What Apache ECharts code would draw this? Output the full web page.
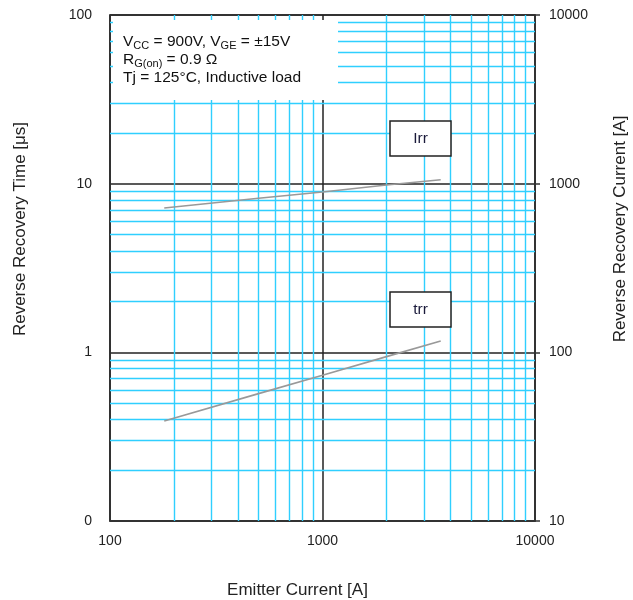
<!DOCTYPE html>
<html>
<head>
<meta charset="utf-8">
<script src="https://cdn.jsdelivr.net/npm/echarts@6/dist/echarts.min.js"></script>
<style>html,body{margin:0;padding:0;background:#fff}#c{width:633px;height:600px}</style>
</head>
<body>
<div id="c"></div>
<script>
// Data
const emitterCurrent = [180, 500, 1000, 2000, 3600];          // A
const trrValues      = [0.392, 0.569, 0.731, 0.943, 1.166];    // µs
const irrValues      = [718, 820, 893, 982, 1055];             // A

// Tick values
const xMinorTicks = [200,300,400,500,600,700,800,900,2000,3000,4000,5000,6000,7000,8000,9000];
const yMinorTicks = [0.2,0.3,0.4,0.5,0.6,0.7,0.8,0.9,2,3,4,5,6,7,8,9,20,30,40,50,60,70,80,90];
const leftTickLabels = {'-1':'0','0':'1','1':'10','2':'100'};

const chart = echarts.init(document.getElementById('c'), null, {renderer:'canvas'});
const FONT = 'Liberation Sans, Arial, sans-serif';
const CYAN = '#2fcfff';
const DARK = '#333';
const TXT = 15.5;

const option = {
  animation: false,
  backgroundColor: '#fff',
  grid: {left:110, right:98, top:15, bottom:79, containLabel:false, outerBoundsMode:'none',
         show:true, borderColor:DARK, borderWidth:1.5, backgroundColor:'transparent'},
  xAxis: {
    type:'log', logBase:10, min:100, max:10000,
    name:'Emitter Current [A]', nameLocation:'middle', nameGap:61,
    nameTextStyle:{fontFamily:FONT, fontSize:17, color:'#222', padding:[0,50,0,0]},
    axisLine:{show:true, lineStyle:{color:DARK, width:1.5}},
    axisTick:{show:false}, minorTick:{show:false}, minorSplitLine:{show:false},
    axisLabel:{fontFamily:FONT, fontSize:14, color:'#222', margin:13,
      formatter: v => String(Math.round(v))},
    splitLine:{show:true, lineStyle:{color:'#222', width:1.5}}
  },
  yAxis: [
    {
      type:'log', logBase:10, min:0.1, max:100, position:'left',
      name:'Reverse Recovery Time [μs]', nameLocation:'middle', nameGap:81,
      nameTextStyle:{fontFamily:FONT, fontSize:17, color:'#222', padding:[0,0,0,78]},
      axisLine:{show:true, lineStyle:{color:DARK, width:1.5}},
      axisTick:{show:false}, minorTick:{show:false}, minorSplitLine:{show:false},
      axisLabel:{fontFamily:FONT, fontSize:14, color:'#222', margin:18,
        formatter: v => leftTickLabels[String(Math.round(Math.log10(v)))]},
      splitLine:{show:true, lineStyle:{color:'#222', width:1.5}}
    },
    {
      type:'log', logBase:10, min:10, max:10000, position:'right',
      name:'Reverse Recovery Current [A]', nameLocation:'middle', nameGap:77,
      nameTextStyle:{fontFamily:FONT, fontSize:17, color:'#222', padding:[0,0,0,78]},
      axisLine:{show:true, lineStyle:{color:DARK, width:1.5}},
      axisTick:{show:true, length:5, inside:false, lineStyle:{color:DARK, width:1.5}},
      minorTick:{show:false}, minorSplitLine:{show:false},
      axisLabel:{fontFamily:FONT, fontSize:14, color:'#222', margin:14,
        formatter: v => String(Math.round(v))},
      splitLine:{show:false}
    }
  ],
  series: [
    {
      name:'grid', type:'line', z:1, yAxisIndex:0, silent:true,
      data:[[100,0.1]], showSymbol:false, lineStyle:{opacity:0},
      markLine:{
        silent:true, symbol:['none','none'], animation:false,
        label:{show:false},
        lineStyle:{type:'solid', color:CYAN, width:1.4},
        data: xMinorTicks.map(v => ({xAxis:v})).concat(yMinorTicks.map(v => ({yAxis:v})))
      }
    },
    {
      name:'Irr', type:'line', yAxisIndex:1, z:5,
      data: emitterCurrent.map((x,i) => [x, irrValues[i]]),
      showSymbol:false, lineStyle:{color:'#999', width:1.6}
    },
    {
      name:'trr', type:'line', yAxisIndex:0, z:5,
      data: emitterCurrent.map((x,i) => [x, trrValues[i]]),
      showSymbol:false, lineStyle:{color:'#999', width:1.6}
    }
  ],
  graphic: [
    {type:'rect', z:100, shape:{x:113, y:20, width:225, height:80}, style:{fill:'#fff', stroke:null}},
    {type:'text', z:101, x:123, y:42, style:{
      text:'{a|V}{s|CC}{a| = 900V, V}{s|GE}{a| = ±15V}', verticalAlign:'middle',
      rich:{a:{fontFamily:FONT, fontSize:TXT, lineHeight:18, fill:'#111', verticalAlign:'middle'},
            s:{fontFamily:FONT, fontSize:11, lineHeight:11, fill:'#111', verticalAlign:'bottom'}}}},
    {type:'text', z:101, x:123, y:60, style:{
      text:'{a|R}{s|G(on)}{a| = 0.9 Ω}', verticalAlign:'middle',
      rich:{a:{fontFamily:FONT, fontSize:TXT, lineHeight:18, fill:'#111', verticalAlign:'middle'},
            s:{fontFamily:FONT, fontSize:11, lineHeight:11, fill:'#111', verticalAlign:'bottom'}}}},
    {type:'text', z:101, x:123, y:78, style:{
      text:'Tj = 125°C, Inductive load', verticalAlign:'middle',
      font:TXT + 'px ' + FONT, fill:'#111'}},
    {type:'rect', z:100, shape:{x:390, y:121, width:61, height:35}, style:{fill:'#fff', stroke:'#222', lineWidth:1.5}},
    {type:'text', z:101, x:420.5, y:138.5, style:{text:'Irr', font:TXT + 'px ' + FONT, fill:'#1a1a3a', align:'center', verticalAlign:'middle'}},
    {type:'rect', z:100, shape:{x:390, y:292, width:61, height:35}, style:{fill:'#fff', stroke:'#222', lineWidth:1.5}},
    {type:'text', z:101, x:420.5, y:309.5, style:{text:'trr', font:TXT + 'px ' + FONT, fill:'#1a1a3a', align:'center', verticalAlign:'middle'}}
  ]
};
chart.setOption(option);
</script>
</body>
</html>
